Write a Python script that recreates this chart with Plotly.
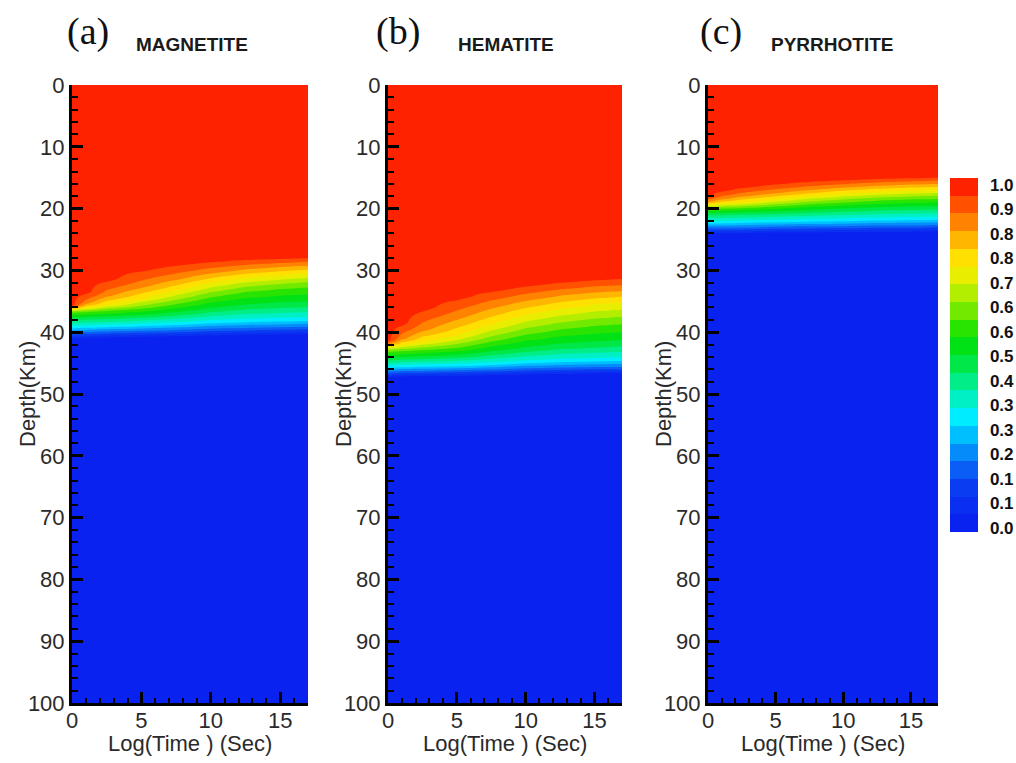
import numpy as np
import plotly.graph_objects as go

# ---------------- data ----------------
PANEL_LETTERS = ["(a)", "(b)", "(c)"]
MINERALS = ["MAGNETITE", "HEMATITE", "PYRRHOTITE"]

# log(time) columns at which isoline depths were read
LOG_TIME = [0, 1, 2.5, 5, 7.5, 10, 12.5, 15, 17]
# normalised value of each isoline (top -> bottom of the transition zone)
ISO_VALUES = [0.97, 0.87, 0.75, 0.62, 0.48, 0.33, 0.18, 0.03]

# depth (km) of each isoline, one row per LOG_TIME column
MAGNETITE_DEPTHS = [
    [35.6, 36.0, 36.3, 36.7, 37.8, 39.2, 40.2, 41.2],
    [33.5, 35.3, 36.1, 36.6, 37.7, 39.1, 40.1, 41.1],
    [31.3, 34.0, 35.6, 36.4, 37.6, 39.0, 40.0, 41.0],
    [29.6, 32.5, 34.6, 36.0, 37.4, 38.8, 39.9, 40.9],
    [28.8, 31.2, 33.3, 35.2, 37.0, 38.6, 39.8, 40.8],
    [28.3, 30.2, 32.0, 34.0, 36.4, 38.3, 39.6, 40.7],
    [28.0, 29.6, 31.2, 33.1, 35.9, 38.1, 39.5, 40.6],
    [27.9, 29.2, 30.8, 32.6, 35.6, 38.0, 39.4, 40.5],
    [27.8, 29.0, 30.5, 32.3, 35.5, 37.9, 39.3, 40.5],
]
HEMATITE_DEPTHS = [
    [41.3, 41.9, 42.4, 43.0, 44.3, 45.6, 46.5, 47.4],
    [38.5, 41.0, 42.1, 42.9, 44.2, 45.5, 46.4, 47.3],
    [36.0, 39.5, 41.6, 42.7, 44.1, 45.4, 46.4, 47.2],
    [34.2, 37.5, 40.6, 42.3, 43.9, 45.3, 46.3, 47.2],
    [33.0, 35.7, 38.8, 41.2, 43.4, 45.1, 46.2, 47.1],
    [32.2, 34.5, 37.2, 40.0, 42.8, 44.8, 46.0, 47.0],
    [31.6, 33.7, 36.2, 39.1, 42.3, 44.6, 45.9, 46.9],
    [31.2, 33.2, 35.5, 38.5, 42.0, 44.5, 45.8, 46.8],
    [31.0, 33.0, 35.2, 38.2, 41.8, 44.4, 45.8, 46.8],
]
PYRRHOTITE_DEPTHS = [
    [17.8, 18.8, 19.4, 20.0, 20.8, 22.2, 23.2, 24.1],
    [17.0, 18.4, 19.2, 19.9, 20.8, 22.2, 23.2, 24.1],
    [16.4, 17.9, 19.0, 19.8, 20.7, 22.1, 23.2, 24.1],
    [15.8, 17.3, 18.5, 19.5, 20.6, 22.0, 23.1, 24.0],
    [15.4, 16.8, 18.0, 19.1, 20.4, 21.9, 23.0, 24.0],
    [15.2, 16.4, 17.6, 18.8, 20.2, 21.8, 23.0, 23.9],
    [15.0, 16.1, 17.3, 18.5, 20.0, 21.7, 22.9, 23.9],
    [14.9, 15.9, 17.1, 18.3, 19.9, 21.6, 22.9, 23.9],
    [14.8, 15.8, 17.0, 18.2, 19.8, 21.6, 22.8, 23.8],
]
PANEL_DEPTHS = [MAGNETITE_DEPTHS, HEMATITE_DEPTHS, PYRRHOTITE_DEPTHS]

# colour-bar labels as they are legible in the picture
COLORBAR_LABELS = ["1.0", "0.9", "0.8", "0.8", "0.7", "0.6", "0.6", "0.5",
                   "0.4", "0.3", "0.3", "0.2", "0.1", "0.1", "0.0"]

DEPTH_MAX = 100
TIME_MAX = 17

# ---------------- style ----------------
W, H = 1016, 763
COLORSCALE = [
    [0.00, "#0a22f0"], [0.10, "#0a3af2"], [0.18, "#0a6cf8"], [0.25, "#00b4ff"],
    [0.32, "#00f0ff"], [0.40, "#00f0a0"], [0.48, "#00e640"], [0.55, "#00e000"],
    [0.63, "#70ea00"], [0.72, "#e0f000"], [0.78, "#ffe800"], [0.85, "#ffb000"],
    [0.92, "#ff6a00"], [1.00, "#ff2200"],
]
PANEL_X = [(72, 308), (388, 622), (708, 938)]
PLOT_TOP, PLOT_BOTTOM = 85, 703

depth_grid = np.linspace(-1, DEPTH_MAX + 1, 817)


def build_field(depth_rows):
    cols = []
    for row in depth_rows:
        d = [0.0] + list(row) + [float(DEPTH_MAX)]
        v = [1.0] + ISO_VALUES + [0.0]
        cols.append(np.interp(depth_grid, d, v))
    # pad one column beyond each edge (copy of the edge column) so the
    # filled contours cover the whole plotting area without edge seams
    cols = [cols[0]] + cols + [cols[-1]]
    xs = [LOG_TIME[0] - 1] + list(LOG_TIME) + [LOG_TIME[-1] + 1]
    return xs, np.array(cols).T  # shape (depth, time)


fig = go.Figure()
FONT_SANS = "Liberation Sans, Arial, sans-serif"
tick_font = dict(family=FONT_SANS, size=22, color="#2a2a2a")
title_font = dict(family=FONT_SANS, size=22, color="#2a2a2a")

for i in range(3):
    xs, z = build_field(PANEL_DEPTHS[i])
    xa = "x" if i == 0 else f"x{i+1}"
    ya = "y" if i == 0 else f"y{i+1}"
    trace = go.Contour(
        x=xs, y=depth_grid, z=z,
        xaxis=xa, yaxis=ya,
        zmin=0, zmax=1,
        colorscale=COLORSCALE,
        contours=dict(start=0.05, end=0.95, size=0.05, coloring="fill", showlines=False),
        line=dict(width=0),
        showscale=(i == 2),
        hoverinfo="skip",
    )
    if i == 2:
        n = len(COLORBAR_LABELS)
        top_frac = (532 - 185) / 354
        bot_frac = (532 - 528) / 354
        tv = [top_frac - k * (top_frac - bot_frac) / (n - 1) for k in range(n)]
        trace.colorbar = dict(
            x=950 / W, xanchor="left", xpad=0,
            y=1 - 355 / H, yanchor="middle", ypad=0,
            len=354 / H, lenmode="fraction",
            thickness=28, outlinewidth=0,
            tickvals=tv, ticktext=["<b>" + t + "</b>" for t in COLORBAR_LABELS],
            ticks="outside", ticklen=9, tickcolor="rgba(0,0,0,0)",
            tickfont=dict(family=FONT_SANS, size=17, color="#111111"),
        )
    fig.add_trace(trace)

    x0, x1 = PANEL_X[i]
    xkey = "xaxis" if i == 0 else f"xaxis{i+1}"
    ykey = "yaxis" if i == 0 else f"yaxis{i+1}"
    fig.update_layout(**{
        xkey: dict(
            domain=[x0 / W, x1 / W], anchor=ya, range=[0, TIME_MAX], automargin=False,
            dtick=5, tick0=0, ticks="inside", ticklen=11, tickwidth=3, tickcolor="black",
            minor=dict(dtick=1, ticks="inside", ticklen=5, tickwidth=1.5, tickcolor="black"),
            showline=True, linecolor="black", linewidth=3, mirror=False,
            showgrid=False, zeroline=False, tickfont=tick_font, ticklabelstandoff=-4,
        ),
        ykey: dict(
            domain=[1 - PLOT_BOTTOM / H, 1 - PLOT_TOP / H], anchor=xa, automargin=False,
            range=[DEPTH_MAX, 0], dtick=10, tick0=0,
            ticks="inside", ticklen=11, tickwidth=3, tickcolor="black",
            minor=dict(dtick=2, ticks="inside", ticklen=6, tickwidth=1.5, tickcolor="black"),
            showline=True, linecolor="black", linewidth=3, mirror=False,
            showgrid=False, zeroline=False, tickfont=tick_font,
        ),
    })

annotations = []
LETTER_X = [88, 398, 721]
NAME_X = [134, 456, 769]
YTITLE_X = [27, 343, 663]
plot_mid_y = 1 - (PLOT_TOP + PLOT_BOTTOM) / 2 / H
for i in range(3):
    x0, x1 = PANEL_X[i]
    annotations.append(dict(
        text=PANEL_LETTERS[i], x=LETTER_X[i] / W, y=1 - 32 / H, xref="paper", yref="paper",
        showarrow=False, xanchor="center", yanchor="middle",
        font=dict(family="Liberation Serif, Times New Roman, serif", size=38, color="#111111"),
    ))
    annotations.append(dict(
        text="<b>" + MINERALS[i] + "</b>", x=NAME_X[i] / W, y=1 - 45 / H, xref="paper", yref="paper",
        showarrow=False, xanchor="left", yanchor="middle",
        font=dict(family=FONT_SANS, size=19, color="#1a1a1a"),
    ))
    annotations.append(dict(
        text="Depth(Km)", x=YTITLE_X[i] / W, y=plot_mid_y, xref="paper", yref="paper",
        showarrow=False, xanchor="center", yanchor="middle", textangle=-90,
        font=title_font,
    ))
    annotations.append(dict(
        text="Log(Time ) (Sec)", x=(x0 + x1) / 2 / W, y=1 - 743 / H, xref="paper", yref="paper",
        showarrow=False, xanchor="center", yanchor="middle",
        font=title_font,
    ))

fig.update_layout(
    width=W, height=H,
    margin=dict(l=0, r=0, t=0, b=0, autoexpand=False),
    paper_bgcolor="white", plot_bgcolor="white",
    annotations=annotations,
    showlegend=False,
)

fig.write_html("out.html")
